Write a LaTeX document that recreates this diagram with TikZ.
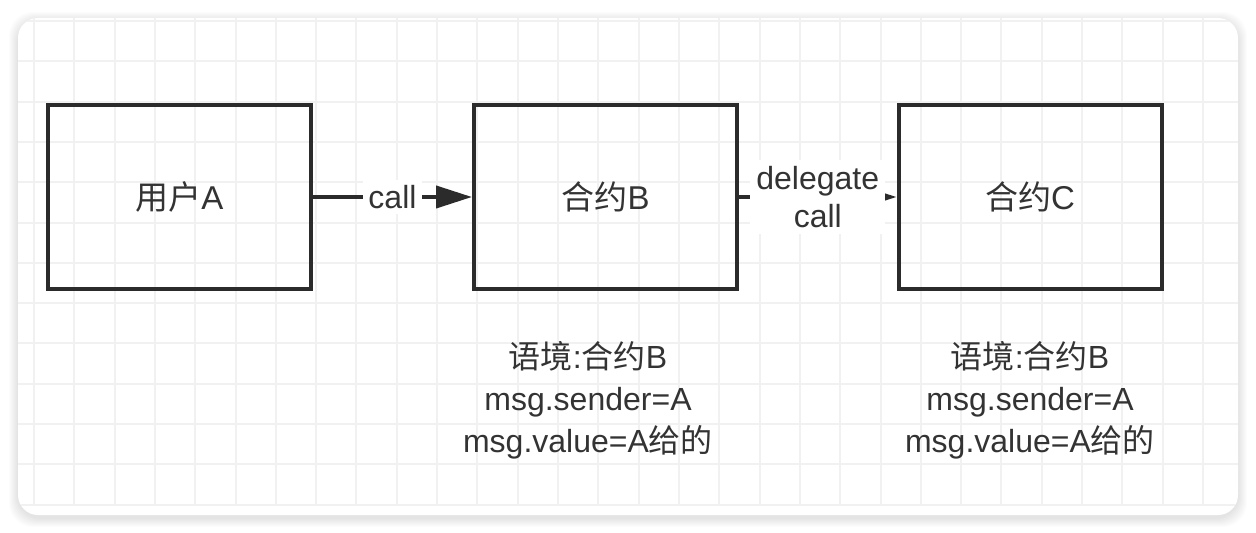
\documentclass[tikz,border=0pt]{standalone}
\usepackage{fontspec}
\setmainfont{Liberation Sans}
\newfontfamily\cjk{Noto Sans CJK SC}
\usetikzlibrary{arrows.meta}
\usetikzlibrary{positioning}

\definecolor{inkgray}{HTML}{2B2B2B}
\definecolor{textgray}{HTML}{333333}
\definecolor{gridgray}{HTML}{F1F1F1}

\tikzset{
    box/.style={draw=inkgray, line width=2pt, minimum width=131.5pt, minimum height=92pt, inner sep=0pt, text=textgray, font=\fontsize{16.5}{19}\selectfont},
    link/.style={draw=inkgray, line width=2pt, -{Triangle[length=18pt,width=11pt]}},
    linklabel/.style={fill=white, inner sep=2.5pt, text=textgray, align=center, font=\fontsize{16}{19}\selectfont},
    context/.style={align=center, text=textgray, font=\fontsize{16}{21}\selectfont}
}

\begin{document}
\begin{tikzpicture}[x=0.5pt, y=-0.5pt]
    \useasboundingbox (0,0) rectangle (1256,533);

    % card and its shadow
    \foreach \s in {1,...,9}
        \fill[black, opacity=0.012, rounded corners=12pt] (18-\s,18-\s+3) rectangle (1238+\s,515+\s+3);
    \fill[white, rounded corners=10pt] (18,18) rectangle (1238,515);
    \begin{scope}
        \clip[rounded corners=10pt] (18,18) rectangle (1238,515);
        \foreach \k in {0,...,29}
            \draw[gridgray, line width=1pt] (34+40.31*\k,18) -- (34+40.31*\k,506);
        \foreach \k in {0,...,12}
            \draw[gridgray, line width=1pt] (18,21+40.31*\k) -- (1238,21+40.31*\k);
    \end{scope}

    % boxes
    \node[box] (userA) at (179.5,197) {{\cjk 用户}A};
    \node[box] (contractB) at (605.5,197) {{\cjk 合约}B};
    \node[box] (contractC) at (1030,197) {{\cjk 合约}C};

    % calls
    \draw[link] (userA.east) -- node[linklabel] {call} (contractB.west);
    \draw[link] (contractB.east) -- node[linklabel, inner sep=3pt] {delegate\\call} (contractC.west);

    % context under B and C
    \node[context] (ctxB) at (588,400) {{\cjk 语境}:{\cjk 合约}B\\msg.sender=A\\msg.value=A{\cjk 给的}};
    \node[context] (ctxC) at (1030,400) {{\cjk 语境}:{\cjk 合约}B\\msg.sender=A\\msg.value=A{\cjk 给的}};
\end{tikzpicture}
\end{document}
